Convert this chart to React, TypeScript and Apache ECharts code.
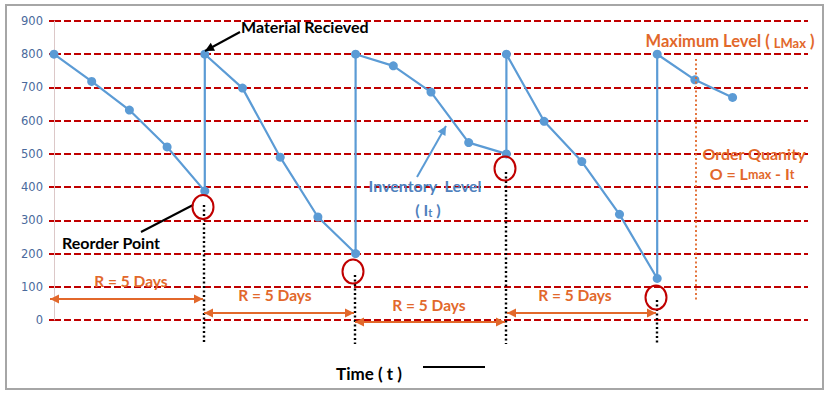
import React, { useEffect, useRef } from "react";
import * as echarts from "echarts";

// Day index along the time axis (duplicates mark the instant replenishments)
const days = [0, 1, 2, 3, 4, 4, 5, 6, 7, 8, 8, 9, 10, 11, 12, 12, 13, 14, 15, 16, 16, 17, 18];
// Inventory level
const levels = [800, 718, 632, 521, 388, 800, 698, 490, 310, 200, 800, 765, 686, 534, 500, 800, 598, 477, 318, 125, 800, 723, 670];
const yMin = 0;
const yMax = 900;
const yStep = 100;
const reviewLabel = "R = 5 Days";

const ORANGE = "#e2682b";
const RED = "#c00000";
const BLUE = "#5b9bd5";
const FONT = "Lato, 'Open Sans', sans-serif";

function head(tx: number, ty: number, fx: number, fy: number, color: string, L = 9, W = 4.5) {
  const dx = tx - fx;
  const dy = ty - fy;
  const len = Math.sqrt(dx * dx + dy * dy);
  const ux = dx / len;
  const uy = dy / len;
  const bx = tx - ux * L;
  const by = ty - uy * L;
  return {
    type: "polygon",
    shape: { points: [[tx, ty], [bx - uy * W, by + ux * W], [bx + uy * W, by - ux * W]] },
    style: { fill: color },
    z: 10,
  };
}

function arrow(x1: number, y1: number, x2: number, y2: number, color: string, both: boolean, lw = 2) {
  const els: any[] = [
    { type: "line", shape: { x1, y1, x2, y2 }, style: { stroke: color, lineWidth: lw }, z: 9 },
    head(x2, y2, x1, y1, color),
  ];
  if (both) els.push(head(x1, y1, x2, y2, color));
  return els;
}

function ring(cx: number, cy: number) {
  return {
    type: "ellipse",
    shape: { cx, cy, rx: 10.5, ry: 12 },
    style: { fill: "none", stroke: RED, lineWidth: 2 },
    z: 10,
  };
}

function dotted(x: number, y1: number, y2: number, color = "#000", lw = 2.4) {
  return {
    type: "line",
    shape: { x1: x, y1, x2: x, y2 },
    style: { stroke: color, lineWidth: lw, lineDash: [2, 2.5] },
    z: 8,
  };
}

function label(text: string, x: number, y: number, color: string, size = 16, align = "center", rich?: any) {
  return {
    type: "text",
    x,
    y,
    style: {
      text,
      fill: color,
      fontWeight: "bold",
      fontSize: size,
      fontFamily: FONT,
      align,
      verticalAlign: "middle",
      rich,
    },
    z: 11,
  };
}

function richStyles(color: string, big: number, small: number, pad: number) {
  return {
    a: { fill: color, fontSize: big, fontFamily: FONT, fontWeight: "bold" },
    b: { fill: color, fontSize: small, fontFamily: FONT, fontWeight: "bold", padding: [pad, 0, 0, 0] },
  };
}

export default function App() {
  const ref = useRef<HTMLDivElement>(null);
  useEffect(() => {
    if (!ref.current) return;
    const chart = echarts.init(ref.current, undefined, { renderer: "svg" });
    const data = days.map((d, i) => [d, levels[i]]);
    const graphic: any[] = [
      {
        type: "rect",
        shape: { x: 6, y: 5, width: 817, height: 384 },
        style: { fill: "none", stroke: "#a6a6a6", lineWidth: 2 },
        z: 0,
      },
      // Material received
      ...arrow(240, 32, 205, 51, "#000", false, 2),
      label("Material Recieved", 241, 26, "#000", 16, "left"),
      // Reorder point
      { type: "line", shape: { x1: 141, y1: 232, x2: 193, y2: 205 }, style: { stroke: "#000", lineWidth: 2 }, z: 9 },
      label("Reorder Point", 62, 242, "#000", 16, "left"),
      ring(203, 207),
      ring(353, 271.5),
      ring(505, 168.5),
      ring(656, 297.5),
      dotted(204, 205, 344),
      dotted(355, 275, 344),
      dotted(506, 172, 344),
      dotted(657, 300, 344),
      // Review period arrows
      ...arrow(50, 299, 203, 299, ORANGE, true),
      label(reviewLabel, 131, 281, ORANGE, 15.5),
      ...arrow(204, 313, 354, 313, ORANGE, true),
      label(reviewLabel, 275, 295, ORANGE, 15.5),
      ...arrow(355, 322, 505, 322, ORANGE, true),
      label(reviewLabel, 429, 305, ORANGE, 15.5),
      ...arrow(507, 313, 656, 313, ORANGE, true),
      label(reviewLabel, 575, 295, ORANGE, 15.5),
      // Inventory level
      ...arrow(417, 177, 446, 126, BLUE, false, 2),
      label("Inventory  Level", 425, 185, "#4f81bd", 16),
      label("{a|( I}{b|t}{a| )}", 428, 209, "#4f81bd", 16, "center", richStyles("#4f81bd", 16, 11, 6)),
      // Maximum level
      label("{a|Maximum Level ( }{b|LMax}{a| )}", 730, 41, ORANGE, 16, "center", richStyles(ORANGE, 16.5, 13, 3)),
      dotted(696, 59, 300, ORANGE, 1.8),
      label("Order Quanity", 754, 153, ORANGE, 16),
      label("{a|O = L}{b|max}{a| - I}{b|t}", 752, 173, ORANGE, 16, "center", richStyles(ORANGE, 16, 12.5, 3)),
      // Time axis title
      label("Time ( t )", 369, 373, "#000", 17),
      { type: "line", shape: { x1: 423, y1: 367, x2: 485, y2: 367 }, style: { stroke: "#000", lineWidth: 2 }, z: 9 },
    ];
    chart.setOption({
      animation: false,
      backgroundColor: "#fff",
      grid: { left: 54, right: 19, top: 21, bottom: 73, containLabel: false },
      xAxis: { type: "value", min: 0, max: 20, show: false },
      yAxis: {
        type: "value",
        min: yMin,
        max: yMax,
        interval: yStep,
        axisLine: { show: true, lineStyle: { color: "#dcc8c8", width: 1 } },
        axisTick: { show: true, length: 7, lineStyle: { color: RED, width: 2, type: [5, 2] } },
        axisLabel: { color: "#4a6a9c", fontSize: 11.5, fontFamily: "'DejaVu Sans', sans-serif", margin: 11 },
        splitLine: { show: true, lineStyle: { color: RED, width: 2, type: [7, 3] } },
      },
      series: [
        {
          type: "line",
          data,
          symbol: "circle",
          symbolSize: 9,
          lineStyle: { color: BLUE, width: 2.2 },
          itemStyle: { color: BLUE },
          z: 5,
        },
      ],
      graphic,
    });
    return () => chart.dispose();
  }, []);
  return <div ref={ref} style={{ width: 827, height: 393, position: "absolute", left: 0, top: 0 }} />;
}
